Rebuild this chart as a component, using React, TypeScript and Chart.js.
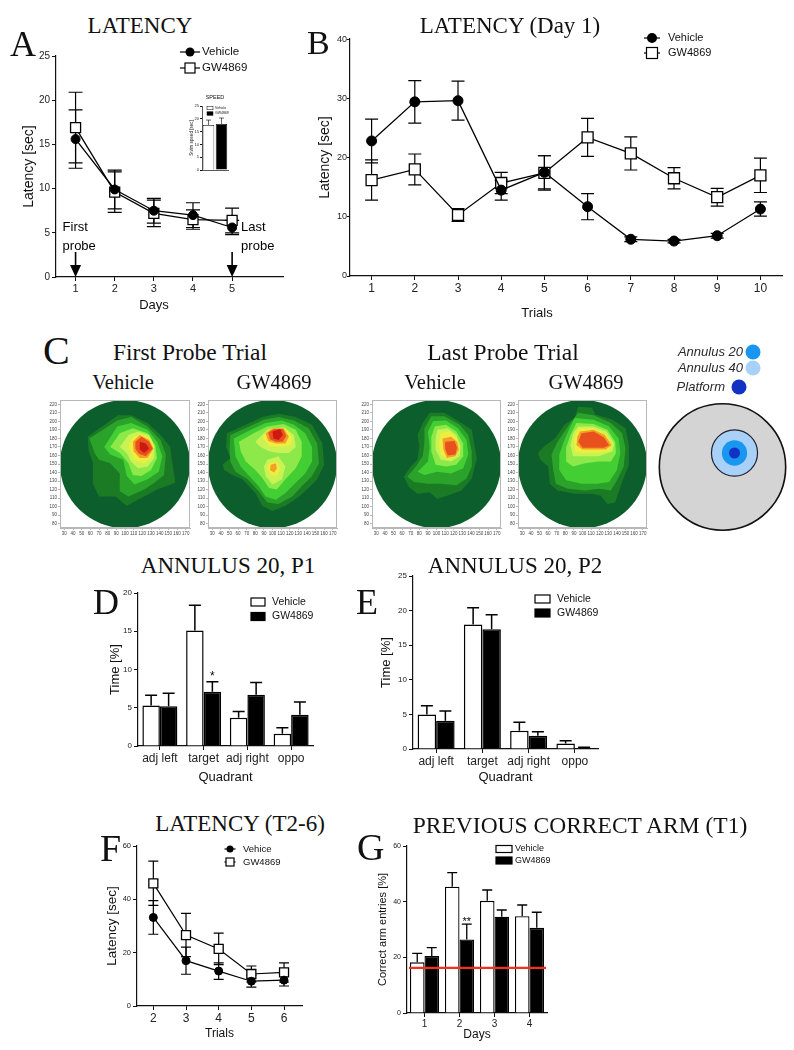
import React, { useEffect, useRef } from 'react';
import { Chart, registerables } from 'chart.js';

Chart.register(...registerables);

const SANS = "'Liberation Sans', Arial, Helvetica, sans-serif";
const SERIF = "'Liberation Serif', 'Times New Roman', Times, serif";
Chart.defaults.font.family = SANS;
Chart.defaults.color = '#222';

// ================= DATA =================
// Panel A – latency per day
const days = [1, 2, 3, 4, 5];
const latencyVehicle = [15.6, 9.9, 7.5, 7.0, 5.6];
const latencyVehicleErr = [3.3, 2.2, 1.4, 1.4, 0.8];
const latencyGW = [16.9, 9.6, 7.2, 6.5, 6.4];
const latencyGWErr = [4.0, 2.3, 1.5, 1.1, 1.4];
const probeDays = [1, 5];
const probeLabels = [['First', 'probe'], ['Last', 'probe']];
const seriesNames = ['Vehicle', 'GW4869'];

// Panel A inset – swim speed
const speedGroups = ['Vehicle', 'GW4869'];
const speedValues = [17.6, 18.0];
const speedErr = [1.9, 2.3];

// Panel B – latency day 1
const trialsDay1 = [1, 2, 3, 4, 5, 6, 7, 8, 9, 10];
const day1Vehicle = [22.8, 29.4, 29.6, 14.5, 17.5, 11.7, 6.2, 5.9, 6.8, 11.3];
const day1VehicleErr = [3.7, 3.6, 3.3, 1.7, 2.8, 2.2, 0.4, 0.3, 0.4, 1.2];
const day1GW = [16.2, 18.0, 10.3, 15.7, 17.4, 23.4, 20.7, 16.5, 13.3, 17.0];
const day1GWErr = [3.4, 2.6, 1.1, 1.8, 2.9, 3.2, 2.8, 1.8, 1.5, 2.9];

// Panel C – occupancy maps (contour levels, polygons in pool coordinates)
const mapXTicks = [30, 40, 50, 60, 70, 80, 90, 100, 110, 120, 130, 140, 150, 160, 170];
const mapYTicks = [80, 90, 100, 110, 120, 130, 140, 150, 160, 170, 180, 190, 200, 210, 220];
const poolMapCenter = [100, 150];
const poolMapRadius = 75;

const firstVehicleMap = [
  [[57, 182, 92, 207, 107, 207, 126, 198, 143, 182, 152, 170, 158, 128, 137, 120, 126, 114, 102, 101, 89, 112, 70, 112, 63, 127, 63, 151, 58, 166]],
  [[59, 180, 91, 201, 107, 205, 126, 194, 141, 178, 147, 161, 145, 137, 134, 128, 122, 120, 104, 112, 94, 118, 94, 139, 83, 151, 70, 155, 65, 163]],
  [[76, 170, 91, 194, 107, 198, 126, 190, 137, 176, 143, 159, 139, 141, 126, 132, 111, 126, 102, 136, 98, 155, 83, 161]],
  [[83, 170, 94, 186, 109, 192, 126, 186, 135, 172, 137, 157, 130, 143, 119, 136, 109, 137, 104, 151, 94, 163]],
  [[94, 170, 104, 184, 115, 188, 128, 184, 134, 170, 134, 157, 126, 147, 115, 145, 107, 153, 102, 163]],
  [[104, 170, 109, 182, 119, 185, 130, 180, 134, 170, 130, 157, 121, 151, 111, 155]],
  [[109, 176, 117, 184, 128, 178, 133, 168, 126, 157, 117, 157, 110, 165]],
  [[112, 176, 119, 182, 128, 176, 132, 168, 124, 159, 116, 162, 112, 168]],
  [[117, 176, 124, 174, 128, 168, 122, 163, 117, 167]],
];

const firstGWMap = [
  [[47, 186, 69, 196, 88, 205, 107, 209, 127, 205, 146, 196, 158, 174, 160, 149, 152, 132, 142, 122, 131, 112, 115, 101, 100, 95, 88, 101, 80, 116, 65, 132, 53, 137, 44, 143, 42, 149, 51, 157, 46, 170]],
  [[51, 184, 73, 194, 90, 202, 107, 205, 125, 201, 142, 192, 152, 174, 154, 151, 146, 136, 134, 124, 123, 112, 107, 103, 94, 105, 84, 118, 71, 132, 57, 141, 51, 153, 50, 167]],
  [[55, 180, 75, 190, 92, 198, 111, 201, 125, 196, 138, 186, 146, 170, 146, 153, 138, 139, 127, 128, 115, 116, 104, 108, 92, 112, 84, 124, 73, 136, 63, 147, 57, 159]],
  [[61, 176, 78, 186, 94, 194, 113, 197, 127, 190, 134, 176, 134, 159, 127, 145, 115, 132, 105, 120, 96, 122, 88, 134, 80, 143, 69, 153, 63, 165]],
  [[80, 176, 94, 190, 113, 193, 125, 184, 127, 170, 119, 163, 107, 163, 96, 165, 86, 170], [94, 155, 107, 159, 115, 147, 111, 132, 100, 126, 92, 136, 90, 147]],
  [[88, 182, 98, 192, 115, 192, 123, 182, 121, 172, 107, 170, 96, 171], [96, 151, 105, 153, 109, 145, 105, 136, 98, 137, 94, 145]],
  [[92, 186, 100, 192, 113, 192, 119, 182, 115, 174, 104, 174, 95, 177], [98, 149, 104, 151, 105, 145, 102, 140, 97, 143]],
  [[95, 187, 102, 191, 112, 191, 116, 183, 112, 176, 104, 176, 97, 179]],
  [[100, 188, 109, 191, 112, 184, 107, 178, 101, 180]],
];

const lastVehicleMap = [
  [[92, 210, 109, 210, 129, 198, 141, 190, 145, 167, 147, 157, 141, 133, 129, 119, 113, 113, 101, 109, 92, 117, 78, 115, 68, 123, 62, 135, 70, 147, 78, 155, 80, 171, 78, 184, 84, 198]],
  [[94, 206, 109, 206, 127, 196, 137, 184, 141, 165, 141, 147, 135, 133, 123, 125, 105, 127, 90, 127, 74, 129, 66, 135, 76, 147, 84, 159, 86, 176, 86, 192]],
  [[96, 200, 111, 201, 125, 192, 135, 178, 137, 161, 131, 145, 117, 139, 101, 141, 86, 137, 78, 141, 90, 153, 92, 169, 90, 188]],
  [[98, 194, 111, 196, 123, 188, 131, 174, 131, 159, 123, 149, 111, 147, 99, 149, 94, 165, 94, 182]],
  [[101, 190, 113, 192, 123, 184, 128, 171, 127, 159, 117, 153, 105, 155, 99, 167, 99, 180]],
  [[105, 186, 115, 188, 124, 180, 127, 169, 123, 159, 113, 156, 105, 161, 103, 174]],
  [[107, 180, 117, 182, 124, 176, 126, 167, 122, 159, 112, 157, 108, 167]],
  [[110, 176, 121, 177, 124, 169, 122, 161, 113, 160, 110, 168]],
];

const lastGWMap = [
  [[95, 217, 111, 216, 115, 208, 135, 202, 150, 192, 154, 172, 154, 149, 146, 129, 142, 117, 138, 105, 129, 103, 121, 113, 111, 115, 91, 115, 71, 119, 62, 127, 60, 147, 51, 155, 48, 163, 56, 171, 68, 180, 79, 196, 91, 204]],
  [[95, 210, 113, 207, 133, 198, 146, 186, 150, 169, 148, 147, 140, 131, 133, 119, 119, 121, 103, 119, 83, 121, 69, 127, 66, 143, 64, 161, 71, 176, 83, 194]],
  [[91, 204, 113, 202, 131, 194, 142, 180, 144, 163, 140, 143, 131, 129, 117, 127, 99, 127, 81, 131, 73, 143, 73, 161, 79, 178, 85, 192]],
  [[93, 198, 113, 197, 129, 190, 138, 176, 139, 163, 133, 153, 119, 153, 103, 151, 89, 147, 81, 153, 81, 169, 86, 184]],
  [[95, 194, 113, 194, 128, 188, 137, 174, 135, 165, 119, 159, 103, 159, 89, 159, 86, 172, 89, 186]],
  [[96, 192, 113, 192, 127, 185, 135, 172, 131, 165, 117, 163, 101, 163, 91, 165, 90, 180]],
  [[97, 188, 113, 190, 126, 184, 134, 172, 127, 167, 115, 167, 100, 167, 93, 172, 94, 182]],
  [[99, 186, 113, 188, 125, 181, 131, 172, 125, 169, 111, 169, 100, 169, 95, 176]],
];

// Panel C – pool schematic (pool radius = 100)
const poolZones = ['Pool', 'Annulus 40', 'Annulus 20', 'Platform'];
const poolZoneX = [0, 19, 19, 19];
const poolZoneY = [0, 22, 22, 22];
const poolZoneR = [100, 36.5, 20, 8.7];
const poolLegendZones = [2, 1, 3];

// Panels D, E – annulus 20 time
const quadrants = ['adj left', 'target', 'adj right', 'oppo'];
const p1Vehicle = [5.3, 15.1, 3.7, 1.6];
const p1VehicleErr = [1.35, 3.3, 0.8, 0.8];
const p1GW = [5.2, 7.1, 6.7, 4.1];
const p1GWErr = [1.7, 1.3, 1.6, 1.65];
const p1GWStars = ['', '*', '', ''];
const p2Vehicle = [5.0, 18.0, 2.65, 0.8];
const p2VehicleErr = [1.25, 2.4, 1.2, 0.4];
const p2GW = [4.1, 17.3, 1.9, 0.15];
const p2GWErr = [1.4, 2.1, 0.6, 0.1];

// Panel F – latency T2-6
const trialsT = [2, 3, 4, 5, 6];
const tVehicle = [33.2, 17.0, 13.1, 9.3, 9.7];
const tVehicleErr = [6.3, 5.1, 3.1, 2.2, 2.2];
const tGW = [46.0, 26.6, 21.4, 12.0, 12.6];
const tGWErr = [8.3, 8.1, 5.9, 3.0, 3.6];
const fLegendNames = ['Vehice', 'GW4869'];

// Panel G – previous correct arm
const armDays = ['1', '2', '3', '4'];
const armVehicle = [18.2, 45.4, 40.3, 34.8];
const armVehicleErr = [3.2, 5.0, 3.9, 4.0];
const armGW = [20.5, 26.4, 34.6, 30.6];
const armGWErr = [3.0, 5.5, 2.4, 5.6];
const armGWStars = ['', '**', '', ''];
const chanceLevel = 16.2;

// ================= STYLES =================
const DISC = '#0c5f2c';
const contourColors = ['#1b7b25', '#2ba32b', '#43cf33', '#8de84a', '#c9f255', '#f0ee3c', '#f2a02a', '#e8501e', '#cc1a12'];
const poolFill = ['#d4d4d4', '#a9d1f7', '#1996f0', '#1232c4'];
const poolStroke = ['#111', '#223', '', ''];
const poolStrokeW = [1.6, 1.2, 0, 0];

// ================= PLUGINS =================
function errorBarsPlugin(both: boolean, cap: number, lw: number, before: boolean) {
  const draw = (chart: any) => {
    const ctx = chart.ctx;
    const ys = chart.scales.y;
    ctx.save();
    ctx.strokeStyle = '#000';
    ctx.lineWidth = lw;
    chart.data.datasets.forEach((ds: any, di: number) => {
      if (!ds.errors) return;
      const meta = chart.getDatasetMeta(di);
      meta.data.forEach((el: any, i: number) => {
        const raw = ds.data[i];
        const v = typeof raw === 'number' ? raw : raw.y;
        const e = ds.errors[i];
        const x = el.x;
        const yt = ys.getPixelForValue(v + e);
        const yb = ys.getPixelForValue(both ? v - e : v);
        ctx.beginPath();
        ctx.moveTo(x, yb);
        ctx.lineTo(x, yt);
        ctx.moveTo(x - cap, yt);
        ctx.lineTo(x + cap, yt);
        if (both) {
          ctx.moveTo(x - cap, yb);
          ctx.lineTo(x + cap, yb);
        }
        ctx.stroke();
      });
    });
    ctx.restore();
  };
  return {
    id: 'errorBars',
    beforeDatasetsDraw(c: any) { if (before) draw(c); },
    afterDatasetsDraw(c: any) { if (!before) draw(c); },
  };
}

function legendPlugin(spec: any) {
  return {
    id: 'customLegend',
    afterDraw(chart: any) {
      const ctx = chart.ctx;
      const labels = spec.labels || chart.data.datasets.map((d: any) => d.label);
      ctx.save();
      ctx.font = `${spec.size}px ${SANS}`;
      ctx.textBaseline = 'middle';
      ctx.textAlign = 'left';
      labels.forEach((lab: string, i: number) => {
        const y = spec.y + i * spec.gap;
        const k = spec.kinds[i];
        ctx.strokeStyle = '#000';
        ctx.lineWidth = spec.lw || 1.2;
        if (k === 'circle' || k === 'square') {
          ctx.beginPath();
          ctx.moveTo(spec.x - spec.half, y);
          ctx.lineTo(spec.x + spec.half, y);
          ctx.stroke();
          if (k === 'circle') {
            ctx.beginPath();
            ctx.arc(spec.x, y, spec.r, 0, Math.PI * 2);
            ctx.fillStyle = '#000';
            ctx.fill();
          } else {
            const s = spec.side;
            ctx.fillStyle = '#fff';
            ctx.fillRect(spec.x - s / 2, y - s / 2, s, s);
            ctx.strokeRect(spec.x - s / 2, y - s / 2, s, s);
          }
        } else {
          ctx.fillStyle = k === 'white' ? '#fff' : '#000';
          ctx.fillRect(spec.x - spec.bw / 2, y - spec.bh / 2, spec.bw, spec.bh);
          ctx.strokeRect(spec.x - spec.bw / 2, y - spec.bh / 2, spec.bw, spec.bh);
        }
        ctx.fillStyle = '#111';
        ctx.fillText(lab, spec.textX, y);
      });
      ctx.restore();
    },
  };
}

function starPlugin(size: number, offset: number) {
  return {
    id: 'stars',
    afterDatasetsDraw(chart: any) {
      const ctx = chart.ctx;
      const ys = chart.scales.y;
      ctx.save();
      ctx.font = `${size}px ${SANS}`;
      ctx.textAlign = 'center';
      ctx.textBaseline = 'alphabetic';
      ctx.fillStyle = '#000';
      chart.data.datasets.forEach((ds: any, di: number) => {
        if (!ds.stars) return;
        const meta = chart.getDatasetMeta(di);
        ds.stars.forEach((s: string, i: number) => {
          if (!s) return;
          const top = ys.getPixelForValue(ds.data[i] + (ds.errors ? ds.errors[i] : 0));
          ctx.fillText(s, meta.data[i].x, top + offset);
        });
      });
      ctx.restore();
    },
  };
}

function refLinePlugin(value: number) {
  return {
    id: 'refLine',
    afterDatasetsDraw(chart: any) {
      const { ctx, chartArea: a, scales } = chart;
      const y = scales.y.getPixelForValue(value);
      ctx.save();
      ctx.strokeStyle = '#f2321e';
      ctx.lineWidth = 2.2;
      ctx.beginPath();
      ctx.moveTo(a.left + 2, y);
      ctx.lineTo(a.right - 1, y);
      ctx.stroke();
      ctx.restore();
    },
  };
}

function probePlugin() {
  return {
    id: 'probes',
    afterDatasetsDraw(chart: any) {
      const { ctx, scales } = chart;
      const y0 = scales.y.getPixelForValue(0);
      ctx.save();
      ctx.fillStyle = '#000';
      ctx.strokeStyle = '#000';
      ctx.lineWidth = 1.6;
      ctx.font = `13px ${SANS}`;
      ctx.textBaseline = 'middle';
      ctx.textAlign = 'left';
      probeDays.forEach((d, k) => {
        const px = scales.x.getPixelForValue(d);
        ctx.beginPath();
        ctx.moveTo(px, y0 - 25);
        ctx.lineTo(px, y0 - 10);
        ctx.stroke();
        ctx.beginPath();
        ctx.moveTo(px - 5.5, y0 - 12);
        ctx.lineTo(px + 5.5, y0 - 12);
        ctx.lineTo(px, y0);
        ctx.closePath();
        ctx.fill();
        const tx = k === 0 ? px - 13 : px + 9;
        ctx.fillText(probeLabels[k][0], tx, y0 - 50);
        ctx.fillText(probeLabels[k][1], tx, y0 - 31);
      });
      ctx.restore();
    },
  };
}

function heatPlugin(levels: number[][][]) {
  return {
    id: 'heat',
    beforeDatasetsDraw(chart: any) {
      const { ctx, chartArea: a, scales } = chart;
      const x = scales.x;
      const y = scales.y;
      ctx.save();
      const cx = x.getPixelForValue(poolMapCenter[0]);
      const cy = y.getPixelForValue(poolMapCenter[1]);
      const rx = x.getPixelForValue(poolMapCenter[0] + poolMapRadius) - cx;
      const ry = cy - y.getPixelForValue(poolMapCenter[1] + poolMapRadius);
      ctx.beginPath();
      ctx.ellipse(cx, cy, rx, ry, 0, 0, Math.PI * 2);
      ctx.fillStyle = DISC;
      ctx.fill();
      ctx.clip();
      levels.forEach((polys, li) => {
        ctx.fillStyle = contourColors[li];
        polys.forEach((p) => {
          ctx.beginPath();
          for (let k = 0; k < p.length; k += 2) {
            const px = x.getPixelForValue(p[k]);
            const py = y.getPixelForValue(p[k + 1]);
            if (k === 0) ctx.moveTo(px, py);
            else ctx.lineTo(px, py);
          }
          ctx.closePath();
          ctx.fill();
        });
      });
      ctx.restore();
      ctx.save();
      ctx.strokeStyle = '#b8b8b8';
      ctx.lineWidth = 1;
      ctx.strokeRect(a.left + 0.5, a.top + 0.5, a.right - a.left - 1, a.bottom - a.top - 1);
      ctx.restore();
    },
  };
}

function poolPlugin() {
  return {
    id: 'pool',
    afterDatasetsDraw(chart: any) {
      const { ctx, scales } = chart;
      const x = scales.x;
      const y = scales.y;
      const unit = Math.abs(x.getPixelForValue(1) - x.getPixelForValue(0));
      ctx.save();
      poolZones.forEach((_z, i) => {
        const cx = x.getPixelForValue(poolZoneX[i]);
        const cy = y.getPixelForValue(poolZoneY[i]);
        ctx.beginPath();
        ctx.arc(cx, cy, poolZoneR[i] * unit, 0, Math.PI * 2);
        ctx.fillStyle = poolFill[i];
        ctx.fill();
        if (poolStroke[i]) {
          ctx.strokeStyle = poolStroke[i];
          ctx.lineWidth = poolStrokeW[i];
          ctx.stroke();
        }
      });
      const textRight = [91, 91, 73];
      const dotX = [101, 101, 87];
      const rowY = [12, 28, 47];
      ctx.font = `italic 13px ${SANS}`;
      ctx.textBaseline = 'middle';
      ctx.textAlign = 'right';
      poolLegendZones.forEach((zi, k) => {
        ctx.fillStyle = '#2a2a2a';
        ctx.fillText(poolZones[zi], textRight[k], rowY[k]);
        ctx.beginPath();
        ctx.arc(dotX[k], rowY[k], 7.5, 0, Math.PI * 2);
        ctx.fillStyle = poolFill[zi];
        ctx.fill();
      });
      ctx.restore();
    },
  };
}

// ================= AXIS HELPERS =================
function linAxis(o: any) {
  return {
    type: 'linear',
    min: o.min,
    max: o.max,
    afterBuildTicks: o.vals ? (s: any) => { s.ticks = o.vals.map((v: number) => ({ value: v })); } : undefined,
    ticks: {
      stepSize: o.step,
      font: { size: o.font },
      padding: o.pad === undefined ? 2 : o.pad,
      color: o.tc || '#222',
      autoSkip: false,
      maxRotation: 0,
      minRotation: 0,
    },
    grid: { display: true, drawOnChartArea: false, drawTicks: true, tickLength: o.len === undefined ? 4 : o.len, color: o.ac || '#111', lineWidth: 1 },
    border: { display: true, color: o.ac || '#111', width: o.bw || 1.2 },
    afterFit: (s: any) => { if (o.axis === 'y') s.width = o.size; else s.height = o.size; },
    title: o.title
      ? { display: true, text: o.title, font: { size: o.tsize }, color: '#111', padding: o.axis === 'y' ? { top: o.tpad, bottom: 0 } : { top: 0, bottom: o.tpad } }
      : { display: false },
  };
}

function catAxis(o: any) {
  return {
    type: 'category',
    ticks: { display: o.showTicks !== false, font: { size: o.font }, padding: 1, color: '#222', autoSkip: false, maxRotation: 0, minRotation: 0 },
    grid: { display: o.grid !== false, offset: false, drawOnChartArea: false, drawTicks: true, tickLength: 4, color: '#111' },
    border: { display: true, color: '#111', width: o.bw || 1.2 },
    afterFit: (s: any) => { s.height = o.size; },
    title: o.title
      ? { display: true, text: o.title, font: { size: o.tsize }, color: '#111', padding: { top: 0, bottom: o.tpad } }
      : { display: false },
  };
}

const baseOpts = (pad: any) => ({
  animation: false,
  responsive: false,
  maintainAspectRatio: false,
  events: [],
  layout: { padding: pad },
  plugins: { legend: { display: false }, tooltip: { enabled: false } },
});

function lineDs(label: string, xs: number[], ys: number[], errs: number[], kind: string, size: number, lw: number) {
  const circle = kind === 'circle';
  return {
    label,
    data: xs.map((x, i) => ({ x, y: ys[i] })),
    errors: errs,
    borderColor: '#000',
    borderWidth: lw,
    pointStyle: circle ? 'circle' : 'rect',
    pointRadius: circle ? size : size / 1.4142,
    pointBackgroundColor: circle ? '#000' : '#fff',
    pointBorderColor: '#000',
    pointBorderWidth: circle ? 1 : 1.3,
    tension: 0,
    fill: false,
  };
}

function barDs(label: string, data: number[], errs: number[], black: boolean, bw: number, stars?: string[]) {
  return {
    label,
    data,
    errors: errs,
    stars,
    backgroundColor: black ? '#000' : '#fff',
    borderColor: '#000',
    borderWidth: bw,
  };
}

// ================= CHART CONFIGS =================
const charts: any[] = [
  {
    key: 'A', box: { l: 10, t: 40, w: 285, h: 275 },
    make: () => ({
      type: 'line',
      data: {
        datasets: [
          lineDs(seriesNames[0], days, latencyVehicle, latencyVehicleErr, 'circle', 4.5, 1.3),
          lineDs(seriesNames[1], days, latencyGW, latencyGWErr, 'square', 10, 1.3),
        ],
      },
      options: {
        ...baseOpts({ top: 16, right: 12, left: 0, bottom: 0 }),
        scales: {
          x: linAxis({ axis: 'x', min: 0.5, max: 6.3, vals: days, size: 38, font: 11, pad: 1 }),
          y: linAxis({ axis: 'y', min: 0, max: 25, step: 5, size: 46, font: 10, title: 'Latency [sec]', tsize: 14, tpad: 10.6 }),
        },
      },
      plugins: [
        errorBarsPlugin(true, 7, 1.2, true),
        probePlugin(),
        legendPlugin({ kinds: ['circle', 'square'], x: 180, half: 10, textX: 192, y: 12, gap: 16, size: 11.5, r: 4.5, side: 10 }),
      ],
    }),
  },
  {
    key: 'Ainset', box: { l: 180, t: 92, w: 52, h: 82 },
    make: () => ({
      type: 'bar',
      data: {
        labels: speedGroups,
        datasets: [{ label: 'Speed', data: speedValues, errors: speedErr, backgroundColor: ['#fff', '#000'], borderColor: '#000', borderWidth: 0.7 }],
      },
      options: {
        ...baseOpts({ top: 14, right: 4, left: 0, bottom: 4 }),
        datasets: { bar: { categoryPercentage: 1, barPercentage: 0.88 } },
        scales: {
          x: catAxis({ size: 0, font: 4, showTicks: false, grid: false, bw: 0.7 }),
          y: linAxis({ axis: 'y', min: 0, max: 25, step: 5, size: 22, font: 4, len: 2, pad: 1, bw: 0.7, title: 'Swim speed [sec]', tsize: 4.5, tpad: 9.3 }),
        },
      },
      plugins: [
        errorBarsPlugin(false, 2.5, 0.6, false),
        legendPlugin({ labels: speedGroups, kinds: ['white', 'black'], x: 30, bw: 6, bh: 3.5, textX: 35, y: 16, gap: 5.5, size: 3.5, lw: 0.5 }),
      ],
    }),
  },
  {
    key: 'B', box: { l: 300, t: 30, w: 494, h: 290 },
    make: () => ({
      type: 'line',
      data: {
        datasets: [
          lineDs(seriesNames[0], trialsDay1, day1Vehicle, day1VehicleErr, 'circle', 5, 1.3),
          lineDs(seriesNames[1], trialsDay1, day1GW, day1GWErr, 'square', 11, 1.3),
        ],
      },
      options: {
        ...baseOpts({ top: 9, right: 12, left: 0, bottom: 0 }),
        scales: {
          x: linAxis({ axis: 'x', min: 0.5, max: 10.5, vals: trialsDay1, size: 44, font: 12, pad: 1 }),
          y: linAxis({ axis: 'y', min: 0, max: 40, step: 10, size: 50, font: 9, pad: 0, len: 3, title: 'Latency [sec]', tsize: 14, tpad: 16.6 }),
        },
      },
      plugins: [
        errorBarsPlugin(true, 6.5, 1.2, true),
        legendPlugin({ kinds: ['circle', 'square'], x: 352, half: 8, textX: 368, y: 8, gap: 15, size: 11, r: 5, side: 11 }),
      ],
    }),
  },
  ...[
    { key: 'm1', l: 44, w: 150, levels: firstVehicleMap },
    { key: 'm2', l: 192, w: 149, levels: firstGWMap },
    { key: 'm3', l: 356, w: 149, levels: lastVehicleMap },
    { key: 'm4', l: 502, w: 149, levels: lastGWMap },
  ].map((m) => ({
    key: m.key, box: { l: m.l, t: 394, w: m.w, h: 146 },
    make: () => ({
      type: 'scatter',
      data: { datasets: [{ data: [] }] },
      options: {
        ...baseOpts({ top: 6, right: 4, left: 0, bottom: 0 }),
        scales: {
          x: linAxis({ axis: 'x', min: 25, max: 175, vals: mapXTicks, size: 12, font: 4.5, len: 2, pad: 1, ac: '#b8b8b8', tc: '#444', bw: 1 }),
          y: linAxis({ axis: 'y', min: 75, max: 225, vals: mapYTicks, size: 16, font: 4.5, len: 2, pad: 1, ac: '#b8b8b8', tc: '#444', bw: 1 }),
        },
      },
      plugins: [heatPlugin(m.levels)],
    }),
  })),
  {
    key: 'pool', box: { l: 652, t: 340, w: 142, h: 197 },
    make: () => ({
      type: 'scatter',
      data: { datasets: [{ data: [] }] },
      options: {
        ...baseOpts({ top: 57, right: 2, left: 1, bottom: 0 }),
        scales: {
          x: { type: 'linear', display: false, min: -110, max: 110 },
          y: { type: 'linear', display: false, min: -110, max: 110 },
        },
      },
      plugins: [poolPlugin()],
    }),
  },
  {
    key: 'D', box: { l: 95, t: 585, w: 228, h: 200 },
    make: () => ({
      type: 'bar',
      data: {
        labels: quadrants,
        datasets: [barDs(seriesNames[0], p1Vehicle, p1VehicleErr, false, 1.5), barDs(seriesNames[1], p1GW, p1GWErr, true, 1.5, p1GWStars)],
      },
      options: {
        ...baseOpts({ top: 8, right: 10, left: 0, bottom: 0 }),
        datasets: { bar: { categoryPercentage: 0.8, barPercentage: 1 } },
        scales: {
          x: catAxis({ size: 39, font: 12, title: 'Quadrant', tsize: 13, tpad: 0.2 }),
          y: linAxis({ axis: 'y', min: 0, max: 20, step: 5, size: 43, font: 8, title: 'Time [%]', tsize: 13, tpad: 12.2 }),
        },
      },
      plugins: [
        errorBarsPlugin(false, 6, 1.5, false),
        starPlugin(12, -1.5),
        legendPlugin({ kinds: ['white', 'black'], x: 163, bw: 14, bh: 8, textX: 177, y: 17, gap: 14.5, size: 10.5 }),
      ],
    }),
  },
  {
    key: 'E', box: { l: 372, t: 568, w: 232, h: 217 },
    make: () => ({
      type: 'bar',
      data: {
        labels: quadrants,
        datasets: [barDs(seriesNames[0], p2Vehicle, p2VehicleErr, false, 1.5), barDs(seriesNames[1], p2GW, p2GWErr, true, 1.5)],
      },
      options: {
        ...baseOpts({ top: 8, right: 6, left: 0, bottom: 0 }),
        datasets: { bar: { categoryPercentage: 0.8, barPercentage: 1 } },
        scales: {
          x: catAxis({ size: 36, font: 12, title: 'Quadrant', tsize: 13, tpad: 0 }),
          y: linAxis({ axis: 'y', min: 0, max: 25, step: 5, size: 41, font: 8, title: 'Time [%]', tsize: 13, tpad: 7 }),
        },
      },
      plugins: [
        errorBarsPlugin(false, 6, 1.5, false),
        legendPlugin({ kinds: ['white', 'black'], x: 170.5, bw: 15, bh: 8, textX: 185, y: 31, gap: 14, size: 10.5 }),
      ],
    }),
  },
  {
    key: 'F', box: { l: 95, t: 838, w: 215, h: 205 },
    make: () => ({
      type: 'line',
      data: {
        datasets: [
          lineDs(fLegendNames[0], trialsT, tVehicle, tVehicleErr, 'circle', 4, 1.2),
          lineDs(fLegendNames[1], trialsT, tGW, tGWErr, 'square', 9, 1.2),
        ],
      },
      options: {
        ...baseOpts({ top: 8, right: 8, left: 0, bottom: 0 }),
        scales: {
          x: linAxis({ axis: 'x', min: 1.5, max: 6.55, vals: trialsT, size: 37, font: 12, pad: 1, title: 'Trials', tsize: 12, tpad: 1.8 }),
          y: linAxis({ axis: 'y', min: 0, max: 60, step: 20, size: 42, font: 7.5, title: 'Latency [sec]', tsize: 13.5, tpad: 8.9 }),
        },
      },
      plugins: [
        errorBarsPlugin(true, 5, 1.2, true),
        legendPlugin({ kinds: ['circle', 'square'], x: 135, half: 5.5, textX: 148, y: 11, gap: 13, size: 9.5, r: 3.5, side: 8 }),
      ],
    }),
  },
  {
    key: 'G', box: { l: 365, t: 838, w: 190, h: 205 },
    make: () => ({
      type: 'bar',
      data: {
        labels: armDays,
        datasets: [barDs(seriesNames[0], armVehicle, armVehicleErr, false, 1.3), barDs(seriesNames[1], armGW, armGWErr, true, 1.3, armGWStars)],
      },
      options: {
        ...baseOpts({ top: 8, right: 8, left: 0, bottom: 0 }),
        datasets: { bar: { categoryPercentage: 0.83, barPercentage: 1 } },
        scales: {
          x: catAxis({ size: 30, font: 10, title: 'Days', tsize: 12, tpad: 0.8 }),
          y: linAxis({ axis: 'y', min: 0, max: 60, step: 20, size: 42, font: 7, title: 'Correct arm entries [%]', tsize: 11, tpad: 11.4 }),
        },
      },
      plugins: [
        errorBarsPlugin(false, 5, 1.3, false),
        starPlugin(11, 1),
        refLinePlugin(chanceLevel),
        legendPlugin({ kinds: ['white', 'black'], x: 139, bw: 16, bh: 7, textX: 150, y: 11, gap: 11.5, size: 9 }),
      ],
    }),
  },
];

// ================= TEXT =================
const texts: any[] = [
  { t: 'LATENCY', x: 140, y: 24.5, s: 23 },
  { t: 'LATENCY (Day 1)', x: 510, y: 24.5, s: 23 },
  { t: 'First Probe Trial', x: 190, y: 353, s: 23.5 },
  { t: 'Last Probe Trial', x: 503, y: 353, s: 23.5 },
  { t: 'Vehicle', x: 123, y: 382, s: 20.5 },
  { t: 'GW4869', x: 274, y: 382, s: 20.5 },
  { t: 'Vehicle', x: 435, y: 382, s: 20.5 },
  { t: 'GW4869', x: 586, y: 382, s: 20.5 },
  { t: 'ANNULUS 20, P1', x: 228, y: 565, s: 23 },
  { t: 'ANNULUS 20, P2', x: 515, y: 565, s: 23 },
  { t: 'LATENCY (T2-6)', x: 240, y: 823, s: 23 },
  { t: 'PREVIOUS CORRECT ARM (T1)', x: 580, y: 826, s: 23.5 },
  { t: 'Days', x: 154, y: 304, s: 13, sans: true },
  { t: 'Trials', x: 537, y: 312, s: 13, sans: true },
  { t: 'SPEED', x: 215, y: 98, s: 5.5, sans: true },
];

const letters: any[] = [
  { t: 'A', x: 10, y: 44, s: 36 },
  { t: 'B', x: 307, y: 43, s: 34 },
  { t: 'C', x: 43, y: 351, s: 40 },
  { t: 'D', x: 93, y: 602, s: 36 },
  { t: 'E', x: 356, y: 602, s: 36 },
  { t: 'F', x: 100, y: 848, s: 38 },
  { t: 'G', x: 357, y: 847, s: 38 },
];

function ChartBox({ box, make }: any) {
  const ref = useRef<HTMLCanvasElement | null>(null);
  useEffect(() => {
    if (!ref.current) return;
    const chart = new Chart(ref.current, make());
    return () => chart.destroy();
  }, []);
  return (
    <canvas
      ref={ref}
      width={box.w}
      height={box.h}
      style={{ position: 'absolute', left: box.l, top: box.t, width: box.w, height: box.h }}
    />
  );
}

export default function App() {
  return (
    <div style={{ position: 'absolute', left: 0, top: 0, width: 794, height: 1050, background: '#fff', overflow: 'hidden' }}>
      {charts.map((c) => (
        <ChartBox key={c.key} box={c.box} make={c.make} />
      ))}
      {texts.map((t, i) => (
        <div
          key={'t' + i}
          style={{
            position: 'absolute', left: t.x, top: t.y, transform: 'translate(-50%, -50%)',
            fontFamily: t.sans ? SANS : SERIF, fontSize: t.s, lineHeight: 1, whiteSpace: 'nowrap', color: '#111',
          }}
        >
          {t.t}
        </div>
      ))}
      {letters.map((t, i) => (
        <div
          key={'l' + i}
          style={{
            position: 'absolute', left: t.x, top: t.y, transform: 'translate(0, -50%)',
            fontFamily: SERIF, fontSize: t.s, lineHeight: 1, whiteSpace: 'nowrap', color: '#111',
          }}
        >
          {t.t}
        </div>
      ))}
    </div>
  );
}
